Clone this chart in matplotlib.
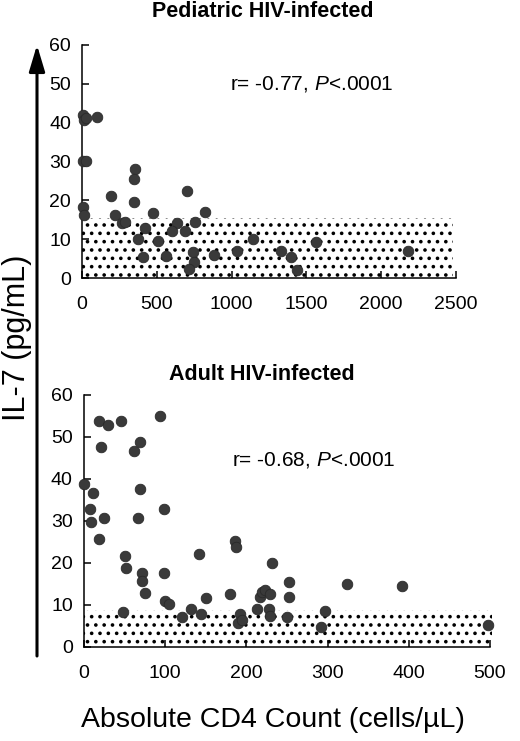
import matplotlib
matplotlib.use("Agg")
import matplotlib.pyplot as plt
from matplotlib.patches import Rectangle

plt.rcParams['font.family'] = ['Liberation Sans', 'DejaVu Sans']
plt.rcParams['mathtext.fontset'] = 'custom'
plt.rcParams['mathtext.it'] = 'Liberation Sans:italic'
plt.rcParams['mathtext.rm'] = 'Liberation Sans'
plt.rcParams['hatch.linewidth'] = 1.4

# pediatric panel: CD4 count vs IL-7
ped_cd4 = [5, 13, 27, 102, 9, 27, 9, 13, 192, 354, 348, 348, 704, 218, 477, 824,
           270, 290, 423, 637, 755, 602, 690, 376, 506, 410, 561, 744, 749, 713,
           882, 1034, 1141, 1328, 1395, 1435, 1564, 2179]
ped_il7 = [42.0, 40.7, 41.1, 41.4, 30.2, 30.2, 18.4, 16.1, 21.2, 28.1, 25.4, 19.5,
           22.3, 16.1, 16.8, 17.1, 14.1, 14.3, 12.9, 14.1, 14.4, 12.0, 12.0, 10.0,
           9.6, 5.5, 5.7, 6.6, 4.0, 2.2, 5.9, 6.9, 10.1, 7.0, 5.5, 2.1, 9.3, 6.9]
ped_normal = (0, 2480, 0, 15.5)   # x0, x1, y0, y1 of normal range band
ped_stat = "r= -0.77, $\\mathit{P}$<.0001"

# adult panel
adult_cd4 = [0, 11.5, 8, 9, 18, 18, 29, 21, 25, 46, 50, 52, 48, 62, 69, 69, 67,
             71, 71, 75, 94, 98, 98, 100, 105, 121, 132, 144, 142, 150, 180, 186,
             187, 192, 190, 194, 213, 217, 219, 223, 229, 228, 229, 231, 252, 252,
             250, 292, 297, 324, 392, 498]
adult_il7 = [38.7, 36.7, 32.8, 29.7, 25.8, 53.8, 52.8, 47.7, 30.8, 53.8, 21.7,
             18.7, 8.3, 46.7, 48.8, 37.7, 30.8, 17.6, 15.6, 12.9, 54.9, 32.8, 17.6,
             11.0, 10.3, 7.1, 9.1, 7.9, 22.1, 11.6, 12.6, 25.2, 23.7, 7.8, 5.8, 6.5,
             9.1, 12.0, 13.2, 13.6, 12.6, 9.0, 7.4, 19.9, 15.5, 12.0, 7.2, 4.8, 8.6,
             14.9, 14.4, 5.3]
adult_normal = (0, 503, 0, 8.7)
adult_stat = "r= -0.68, $\\mathit{P}$<.0001"

fig = plt.figure(figsize=(5.2, 7.41), dpi=100)
ax1 = fig.add_axes([0.1577, 0.6248, 0.7193, 0.3145])
ax2 = fig.add_axes([0.1615, 0.1269, 0.7808, 0.3401])


def draw_panel(ax, xs, ys, band, stat, stat_xy, xmax, xstep):
    x0, x1, y0, y1 = band
    ax.add_patch(Rectangle((x0, y0), x1 - x0, y1 - y0, facecolor='none',
                           edgecolor='black', hatch='..', lw=0, zorder=1,
                           clip_on=False))
    ax.scatter(xs, ys, s=58, color='#3a3a3a', edgecolor='#2a2a2a', lw=0.6,
               zorder=3, clip_on=False)
    ax.text(stat_xy[0], stat_xy[1], stat, fontsize=15, va='center', ha='left')
    ax.set_xlim(0, xmax)
    ax.set_ylim(0, 60)
    ax.set_xticks(range(0, xmax + 1, xstep))
    ax.set_yticks(range(0, 61, 10))
    ax.spines['top'].set_visible(False)
    ax.spines['right'].set_visible(False)
    for s in ['left', 'bottom']:
        ax.spines[s].set_linewidth(1.1)
    ax.tick_params(axis='both', direction='in', length=5, width=1.1, labelsize=14)
    ax.tick_params(axis='y', pad=8)
    ax.tick_params(axis='x', pad=13)


draw_panel(ax1, ped_cd4, ped_il7, ped_normal, ped_stat, (990, 50), 2500, 500)
draw_panel(ax2, adult_cd4, adult_il7, adult_normal, adult_stat, (182, 44.5), 500, 100)

fig.text(0.505, 0.984, "Pediatric HIV-infected", fontsize=15.5, fontweight='bold',
         ha='center', va='center')
fig.text(0.503, 0.494, "Adult HIV-infected", fontsize=15.5, fontweight='bold',
         ha='center', va='center')

fig.text(0.033, 0.544, "IL-7 (pg/mL)", fontsize=22, rotation=90, ha='center', va='center')
fig.text(0.525, 0.028, "Absolute CD4 Count (cells/\u00b5L)", fontsize=20.5,
         ha='center', va='center')

fig.add_artist(plt.Annotation('', xy=(37, 696), xytext=(37, 85),
                              xycoords='figure pixels', textcoords='figure pixels',
                              arrowprops=dict(arrowstyle='-|>,head_length=1.0,head_width=0.3',
                                              lw=2.2, color='black', mutation_scale=16,
                                              shrinkA=0, shrinkB=0)))

fig.savefig('out.png', dpi=100)
